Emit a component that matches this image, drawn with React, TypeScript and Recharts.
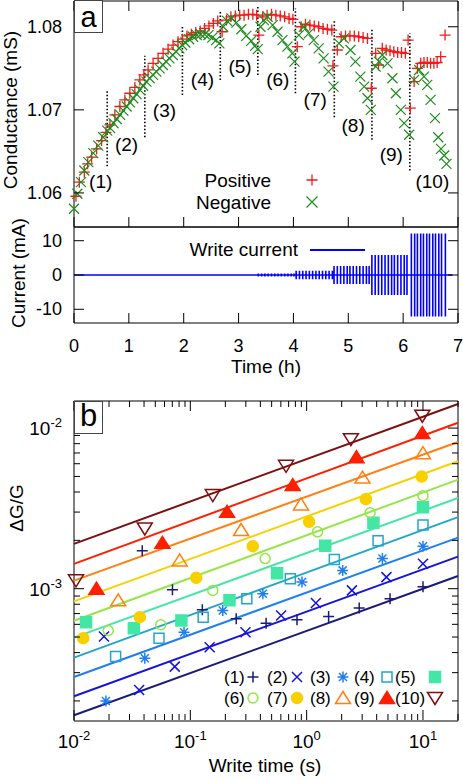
import React from "react";
import {
  ComposedChart,
  Scatter,
  Line,
  XAxis,
  YAxis,
  ReferenceLine,
  ReferenceArea,
  ReferenceDot,
} from "recharts";

const FONT = '"Liberation Sans", Arial, Helvetica, sans-serif';

// ---------------- Panel a (top): conductance vs time ----------------
const positive: [number, number][] = [
  [0.036, 1.0596], [0.097, 1.0613], [0.188, 1.0625], [0.248, 1.0635], [0.321, 1.0643], [0.412, 1.0653], [0.503, 1.0663], [0.582, 1.0673],
  [0.655, 1.0682], [0.745, 1.0694], [0.836, 1.0704], [0.927, 1.0712], [1.018, 1.072], [1.109, 1.0727], [1.2, 1.0736], [1.273, 1.0742],
  [1.351, 1.0748], [1.442, 1.0756], [1.533, 1.0762], [1.624, 1.0768], [1.715, 1.0773], [1.806, 1.0778], [1.896, 1.0782], [1.976, 1.0785],
  [2.06, 1.0789], [2.14, 1.0791], [2.22, 1.0793], [2.3, 1.0795], [2.38, 1.0798], [2.46, 1.0801], [2.54, 1.0804], [2.62, 1.0807],
  [2.7, 1.0794], [2.78, 1.0808], [2.86, 1.0812], [2.94, 1.0813], [3.02, 1.0814], [3.1, 1.0814], [3.18, 1.0815], [3.26, 1.0815], [3.33, 1.0814],
  [3.37, 1.079], [3.44, 1.0812], [3.52, 1.0814], [3.6, 1.0815], [3.68, 1.0814], [3.76, 1.0813], [3.84, 1.0812], [3.92, 1.081], [3.99, 1.0809],
  [4.07, 1.0776], [4.14, 1.08], [4.22, 1.0803], [4.3, 1.0802], [4.38, 1.0801], [4.46, 1.08], [4.54, 1.0798], [4.62, 1.0797], [4.7, 1.0796], [4.72, 1.0753],
  [4.8, 1.0772], [4.87, 1.0788], [4.95, 1.0789], [5.03, 1.0789], [5.11, 1.0789], [5.19, 1.0788], [5.27, 1.0787], [5.35, 1.0786], [5.42, 1.0726],
  [5.5, 1.0768], [5.55, 1.0754], [5.62, 1.0774], [5.69, 1.0772], [5.76, 1.0771], [5.83, 1.077], [5.9, 1.0769], [5.97, 1.0769], [6.04, 1.0768], [6.09, 1.0784], [6.13, 1.0702],
  [6.2, 1.0734], [6.26, 1.075], [6.32, 1.0756], [6.38, 1.0757], [6.44, 1.0757], [6.5, 1.0756], [6.56, 1.0756], [6.62, 1.0757], [6.685, 1.0764], [6.764, 1.079],
];

const negative: [number, number][] = [
  [0, 1.0581], [0.061, 1.0599], [0.127, 1.0613], [0.188, 1.0627], [0.261, 1.0637], [0.352, 1.0648], [0.442, 1.0657], [0.533, 1.0667], [0.606, 1.0675],
  [0.66, 1.0678], [0.72, 1.0684], [0.78, 1.0689], [0.84, 1.0694], [0.9, 1.0699], [0.96, 1.0704], [1.02, 1.0709], [1.08, 1.0714], [1.14, 1.0719], [1.2, 1.0724], [1.26, 1.0729],
  [1.32, 1.0734], [1.38, 1.0738], [1.44, 1.0742], [1.5, 1.0746], [1.56, 1.075], [1.62, 1.0754], [1.68, 1.0758], [1.74, 1.0762], [1.8, 1.0766], [1.86, 1.077], [1.92, 1.0774], [1.97, 1.0778],
  [2.03, 1.0781], [2.1, 1.0785], [2.17, 1.0788], [2.24, 1.079], [2.31, 1.0791], [2.38, 1.0791], [2.45, 1.079], [2.52, 1.0787], [2.59, 1.0784], [2.65, 1.078],
  [2.72, 1.08], [2.79, 1.0807], [2.87, 1.081], [2.96, 1.0805], [3.05, 1.0797], [3.14, 1.0789], [3.23, 1.0783], [3.3, 1.0777], [3.35, 1.0773],
  [3.4, 1.08], [3.46, 1.0808], [3.53, 1.0812], [3.62, 1.0802], [3.71, 1.0794], [3.8, 1.0784], [3.89, 1.0776], [3.98, 1.0768], [4.02, 1.0758],
  [4.1, 1.079], [4.19, 1.08], [4.28, 1.0792], [4.37, 1.0784], [4.46, 1.0774], [4.55, 1.0762], [4.64, 1.0746], [4.73, 1.0728],
  [4.83, 1.078], [4.92, 1.0786], [5.04, 1.0772], [5.13, 1.0758], [5.22, 1.074], [5.29, 1.0728], [5.35, 1.0714], [5.41, 1.07],
  [5.5, 1.0752], [5.56, 1.0758], [5.62, 1.0766], [5.715, 1.0756], [5.805, 1.0738], [5.867, 1.072], [5.958, 1.07], [6.018, 1.0684], [6.109, 1.067],
  [6.2, 1.0736], [6.29, 1.0748], [6.38, 1.074], [6.44, 1.073], [6.5, 1.0712], [6.58, 1.069], [6.64, 1.0667], [6.69, 1.0653], [6.75, 1.0645], [6.79, 1.0635],
];

const hourTicks = [0, 1, 2, 3, 4, 5, 6, 7];
const gTicks = [1.06, 1.07, 1.08];

const sepTimes = [0.605, 1.291, 1.976, 2.667, 3.351, 4.036, 4.745, 5.431, 6.122];
const sepLow = [1.0632, 1.0667, 1.0718, 1.0736, 1.0742, 1.072, 1.0691, 1.0664, 1.0627];
const sepHigh = [1.0723, 1.0765, 1.0802, 1.082, 1.0825, 1.0822, 1.0808, 1.0797, 1.0792];

const segLabels = ["(1)", "(2)", "(3)", "(4)", "(5)", "(6)", "(7)", "(8)", "(9)", "(10)"];
const segLabelT = [0.487, 0.958, 1.649, 2.342, 3.027, 3.715, 4.397, 5.088, 5.785, 6.533];
const segLabelG = [1.0614, 1.0658, 1.07, 1.0737, 1.0753, 1.0737, 1.0713, 1.0681, 1.0646, 1.0614];

// ---------------- Panel a (bottom): write current ----------------
const currentTicks = [-10, 0, 10];
const pulseAmp = [0.12, 0.45, 1.25, 2.65, 5.8, 12.1];
const pulseTimes: number[][] = [
  [2.7, 2.76, 2.81, 2.87, 2.93, 2.98, 3.04, 3.1, 3.15, 3.21, 3.26, 3.31],
  [3.36, 3.42, 3.48, 3.54, 3.6, 3.66, 3.72, 3.78, 3.84, 3.9, 3.96, 4.01],
  [4.05, 4.11, 4.17, 4.23, 4.29, 4.35, 4.41, 4.47, 4.53, 4.59, 4.65, 4.71],
  [4.74, 4.8, 4.86, 4.92, 4.98, 5.03, 5.09, 5.15, 5.21, 5.27, 5.33, 5.38],
  [5.43, 5.49, 5.55, 5.61, 5.67, 5.73, 5.79, 5.84, 5.9, 5.96, 6.02, 6.07],
  [6.15, 6.21, 6.26, 6.32, 6.37, 6.43, 6.48, 6.54, 6.59, 6.65, 6.7, 6.77],
];
const currentEnd = 6.9;

// ---------------- Panel b: dG/G vs write time ----------------
const bNames = ["(1)", "(2)", "(3)", "(4)", "(5)", "(6)", "(7)", "(8)", "(9)", "(10)"];
const bColors = ["#1b1b78", "#1414dc", "#1f7ff0", "#22a6cc", "#44e6a6", "#96e64a", "#f8d000", "#ff8010", "#ff1e00", "#7d0f0f"];
const bMarks = ["plus", "cross", "star", "square", "fsquare", "circle", "fcircle", "tri", "ftri", "dtri"];
const bTimes: number[][] = [
  [0.0386, 0.0702, 0.1268, 0.248, 0.448, 0.826, 1.545, 2.83, 5.21, 10],
  [0.0181, 0.0363, 0.0735, 0.1466, 0.298, 0.603, 1.2, 2.45, 4.85, 10],
  [0.0188, 0.0406, 0.0883, 0.19, 0.42, 0.912, 2.04, 4.48, 10],
  [0.0228, 0.0538, 0.129, 0.306, 0.724, 1.73, 4.11, 10],
  [0.0127, 0.0327, 0.0838, 0.217, 0.557, 1.445, 3.75, 10],
  [0.0197, 0.0557, 0.156, 0.44, 1.24, 3.51, 10],
  [0.012, 0.0368, 0.1125, 0.344, 1.05, 3.23, 9.75],
  [0.024, 0.081, 0.273, 0.893, 3.02, 10],
  [0.0156, 0.0575, 0.207, 0.759, 2.68, 9.87],
  [0.0104, 0.0406, 0.156, 0.665, 2.4, 9.87],
];
const bValues: number[][] = [
  [1.72e-3, 9.86e-4, 7.39e-4, 6.49e-4, 6.1e-4, 6.4e-4, 6.72e-4, 7.57e-4, 8.66e-4, 1.03e-3],
  [5.04e-4, 2.34e-4, 3.27e-4, 4.32e-4, 5.36e-4, 6.81e-4, 8.14e-4, 9.76e-4, 1.18e-3, 1.43e-3],
  [2.0e-4, 3.69e-4, 5.36e-4, 7.32e-4, 9.3e-4, 1.1e-3, 1.3e-3, 1.54e-3, 1.84e-3],
  [3.78e-4, 4.92e-4, 6.65e-4, 8.66e-4, 1.155e-3, 1.52e-3, 1.99e-3, 2.49e-3],
  [6.19e-4, 5.68e-4, 6.34e-4, 8.46e-4, 1.25e-3, 1.85e-3, 2.57e-3, 3.21e-3],
  [5.49e-4, 5.96e-4, 9.76e-4, 1.54e-3, 2.26e-3, 2.97e-3, 3.79e-3],
  [4.92e-4, 6.65e-4, 1.17e-3, 1.84e-3, 2.61e-3, 3.61e-3, 4.99e-3],
  [8.46e-4, 1.5e-3, 2.32e-3, 3.35e-3, 4.92e-3, 6.98e-3],
  [1.0e-3, 1.93e-3, 3.01e-3, 4.42e-3, 6.59e-3, 9.31e-3],
  [1.127e-3, 2.37e-3, 3.83e-3, 5.82e-3, 8.53e-3, 1.194e-2],
];
const fitT = [0.01, 20];
const fitLow = [1.63e-4, 2.14e-4, 2.82e-4, 3.72e-4, 4.96e-4, 6.31e-4, 8.33e-4, 1.122e-3, 1.427e-3, 1.903e-3];
const fitHigh = [1.2e-3, 1.585e-3, 2.08e-3, 2.79e-3, 3.67e-3, 4.78e-3, 6.22e-3, 8.2e-3, 1.079e-2, 1.413e-2];
const bXMajor = [0.01, 0.1, 1, 10];
const bXMinor = [0.02, 0.03, 0.04, 0.05, 0.06, 0.07, 0.08, 0.09, 0.2, 0.3, 0.4, 0.5, 0.6, 0.7, 0.8, 0.9, 2, 3, 4, 5, 6, 7, 8, 9, 20];
const bYMajor = [1e-3, 1e-2];
const bYMinor = [2e-4, 3e-4, 4e-4, 5e-4, 6e-4, 7e-4, 8e-4, 9e-4, 2e-3, 3e-3, 4e-3, 5e-3, 6e-3, 7e-3, 8e-3, 9e-3];
const bXDomain = [0.01, 20];
const bYDomain = [1.5e-4, 1.475e-2];

// ---------------- helpers ----------------
type P = { x: number; y: number };
const toPts = (arr: [number, number][]): P[] => arr.map(([x, y]) => ({ x, y }));

const MARK: Record<string, { d: string; filled: boolean }> = {
  plus: { d: "M-5.5,0H5.5M0,-5.5V5.5", filled: false },
  cross: { d: "M-5,-5L5,5M-5,5L5,-5", filled: false },
  star: { d: "M-5.5,0H5.5M0,-5.5V5.5M-4,-4L4,4M-4,4L4,-4", filled: false },
  square: { d: "M-5,-5H5V5H-5Z", filled: false },
  fsquare: { d: "M-5.5,-5.5H5.5V5.5H-5.5Z", filled: true },
  circle: { d: "M-5,0A5,5 0 1,0 5,0A5,5 0 1,0 -5,0Z", filled: false },
  fcircle: { d: "M-5.5,0A5.5,5.5 0 1,0 5.5,0A5.5,5.5 0 1,0 -5.5,0Z", filled: true },
  tri: { d: "M0,-6.5L7.5,5.5H-7.5Z", filled: false },
  ftri: { d: "M0,-6.5L7.5,5.5H-7.5Z", filled: true },
  dtri: { d: "M0,6.5L7.5,-5.5H-7.5Z", filled: false },
};

const markerShape = (kind: string, color: string, sw = 1.3) => (p: any) => {
  const { cx, cy } = p;
  if (cx == null || cy == null || isNaN(cx) || isNaN(cy)) return <g />;
  const m = MARK[kind];
  return (
    <path
      transform={`translate(${cx},${cy})`}
      d={m.d}
      stroke={color}
      strokeWidth={sw}
      fill={m.filled ? color : "none"}
    />
  );
};

const PL = 74;
const PR = 458;

const yTick =
  (opts: {
    isMajor: (v: number) => boolean;
    label: (v: number) => React.ReactNode;
    majorLen: number;
    minorLen: number;
    dy: number;
    fontSize: number;
  }) =>
  (props: any) => {
    const { y, payload } = props;
    const v = payload.value;
    const major = opts.isMajor(v);
    const len = major ? opts.majorLen : opts.minorLen;
    return (
      <g>
        <line x1={PL} x2={PL + len} y1={y} y2={y} stroke="#000" strokeWidth={1} />
        <line x1={PR - len} x2={PR} y1={y} y2={y} stroke="#000" strokeWidth={1} />
        {major && (
          <text x={PL - 12} y={y + opts.dy} textAnchor="end" fontSize={opts.fontSize} fontFamily={FONT} fill="#000">
            {opts.label(v)}
          </text>
        )}
      </g>
    );
  };

const xTick =
  (opts: {
    top: number | null;
    bottom: number;
    isMajor: (v: number) => boolean;
    label: ((v: number) => React.ReactNode) | null;
    majorLen: number;
    minorLen: number;
    dy: number;
    fontSize: number;
  }) =>
  (props: any) => {
    const { x, payload } = props;
    const v = payload.value;
    const major = opts.isMajor(v);
    const len = major ? opts.majorLen : opts.minorLen;
    return (
      <g>
        <line x1={x} x2={x} y1={opts.bottom} y2={opts.bottom - len} stroke="#000" strokeWidth={1} />
        {opts.top !== null && (
          <line x1={x} x2={x} y1={opts.top} y2={opts.top + len} stroke="#000" strokeWidth={1} />
        )}
        {major && opts.label && (
          <text x={x} y={opts.bottom + opts.dy} textAnchor="middle" fontSize={opts.fontSize} fontFamily={FONT} fill="#000">
            {opts.label(v)}
          </text>
        )}
      </g>
    );
  };

const pow10Label = (v: number) => {
  const e = Math.round(Math.log10(v));
  return (
    <>
      10
      <tspan dy={-8} fontSize={13}>
        {String(e)}
      </tspan>
    </>
  );
};

export default function App() {
  const posPts = toPts(positive);
  const negPts = toPts(negative);

  const currentPts: P[] = [{ x: 0, y: 0 }];
  pulseTimes.forEach((ts, k) =>
    ts.forEach((t) => {
      currentPts.push({ x: t, y: 0 }, { x: t, y: pulseAmp[k] }, { x: t, y: -pulseAmp[k] }, { x: t, y: 0 });
    })
  );
  currentPts.push({ x: currentEnd, y: 0 });

  const bTicksX = [...bXMajor, ...bXMinor].sort((a, b) => a - b);
  const bTicksY = [...bYMajor, ...bYMinor].sort((a, b) => a - b);
  const isMajorX = (v: number) => bXMajor.some((m) => Math.abs(m - v) / m < 1e-6);
  const isMajorY = (v: number) => bYMajor.some((m) => Math.abs(m - v) / m < 1e-6);

  const A1 = { top: 1, bottom: 227 };
  const A2 = { top: 7, bottom: 103 };
  const B = { top: 21, bottom: 340 };

  return (
    <div style={{ position: "absolute", left: 0, top: 0, width: 463, height: 780, background: "#fff", overflow: "hidden" }}>
      {/* Panel a - conductance */}
      <div style={{ position: "absolute", left: 0, top: 0 }}>
        <ComposedChart width={463} height={228} margin={{ top: 1, right: 5, bottom: 0, left: 0 }}>
          <XAxis
            dataKey="x"
            type="number"
            domain={[0, 7]}
            ticks={hourTicks}
            interval={0}
            height={1}
            axisLine={false}
            tickLine={false}
            tickSize={0}
            tickMargin={0}
            tick={xTick({ top: A1.top, bottom: A1.bottom, isMajor: () => true, label: null, majorLen: 10, minorLen: 10, dy: 0, fontSize: 18 })}
          />
          <YAxis
            dataKey="y"
            type="number"
            domain={[1.0559, 1.0831]}
            ticks={gTicks}
            interval={0}
            width={74}
            axisLine={false}
            tickLine={false}
            tickSize={0}
            tickMargin={0}
            tick={yTick({ isMajor: () => true, label: (v) => v.toFixed(2), majorLen: 10, minorLen: 10, dy: 6, fontSize: 18 })}
          />
          {sepTimes.map((t, i) => (
            <ReferenceLine
              key={"sep" + i}
              segment={[
                { x: t, y: sepLow[i] },
                { x: t, y: sepHigh[i] },
              ]}
              stroke="#000"
              strokeWidth={1.6}
              strokeDasharray="1.5 2"
            />
          ))}
          <Scatter name="Positive" data={posPts} shape={markerShape("plus", "#f21b1b", 1.3)} isAnimationActive={false} />
          <Scatter name="Negative" data={negPts} shape={markerShape("cross", "#1e8c1e", 1.2)} isAnimationActive={false} />
          {segLabels.map((s, i) => (
            <ReferenceDot
              key={"lab" + i}
              x={segLabelT[i]}
              y={segLabelG[i]}
              r={0}
              fill="none"
              stroke="none"
              label={{ value: s, position: "center", fontSize: 19, fill: "#000", fontFamily: FONT }}
            />
          ))}
          <ReferenceArea x1={0} x2={7} y1={1.0559} y2={1.0831} fill="none" stroke="#000" strokeWidth={1} />
        </ComposedChart>
      </div>

      {/* Panel a - current */}
      <div style={{ position: "absolute", left: 0, top: 220 }}>
        <ComposedChart width={463} height={160} margin={{ top: 7, right: 5, bottom: 17, left: 0 }}>
          <XAxis
            dataKey="x"
            type="number"
            domain={[0, 7]}
            ticks={hourTicks}
            interval={0}
            height={40}
            axisLine={false}
            tickLine={false}
            tickSize={0}
            tickMargin={0}
            tick={xTick({ top: null, bottom: A2.bottom, isMajor: () => true, label: (v) => String(v), majorLen: 10, minorLen: 10, dy: 29, fontSize: 18 })}
          />
          <YAxis
            dataKey="y"
            type="number"
            domain={[-14, 14]}
            ticks={currentTicks}
            interval={0}
            width={74}
            axisLine={false}
            tickLine={false}
            tickSize={0}
            tickMargin={0}
            tick={yTick({ isMajor: () => true, label: (v) => String(v), majorLen: 10, minorLen: 10, dy: 6, fontSize: 18 })}
          />
          <Line data={currentPts} dataKey="y" stroke="#0000ff" strokeWidth={1.6} dot={false} isAnimationActive={false} />
          <ReferenceArea x1={0} x2={7} y1={-14} y2={14} fill="none" stroke="#000" strokeWidth={1} />
        </ComposedChart>
      </div>

      {/* Panel b */}
      <div style={{ position: "absolute", left: 0, top: 380 }}>
        <ComposedChart width={463} height={400} margin={{ top: 21, right: 5, bottom: 20, left: 0 }}>
          <XAxis
            dataKey="x"
            type="number"
            scale="log"
            domain={bXDomain}
            ticks={bTicksX}
            interval={0}
            height={39}
            axisLine={false}
            tickLine={false}
            tickSize={0}
            tickMargin={0}
            tick={xTick({ top: B.top, bottom: B.bottom, isMajor: isMajorX, label: pow10Label, majorLen: 10, minorLen: 6, dy: 28, fontSize: 19 })}
          />
          <YAxis
            dataKey="y"
            type="number"
            scale="log"
            domain={bYDomain}
            ticks={bTicksY}
            interval={0}
            width={74}
            axisLine={false}
            tickLine={false}
            tickSize={0}
            tickMargin={0}
            tick={yTick({ isMajor: isMajorY, label: pow10Label, majorLen: 10, minorLen: 6, dy: 7, fontSize: 19 })}
          />
          <ReferenceArea x1={bXDomain[0]} x2={bXDomain[1]} y1={bYDomain[0]} y2={bYDomain[1]} fill="none" stroke="#000" strokeWidth={1} />
          {bNames.map((n, i) => (
            <Line
              key={"fit" + i}
              data={[
                { x: fitT[0], y: fitLow[i] },
                { x: fitT[1], y: fitHigh[i] },
              ]}
              dataKey="y"
              stroke={bColors[i]}
              strokeWidth={2}
              dot={false}
              isAnimationActive={false}
            />
          ))}
          {bNames.map((n, i) => (
            <Scatter
              key={"sc" + i}
              name={n}
              data={bTimes[i].map((t, j) => ({ x: t, y: bValues[i][j] }))}
              shape={markerShape(bMarks[i], bColors[i], 1.5)}
              isAnimationActive={false}
            />
          ))}
        </ComposedChart>
      </div>

      {/* Decorations: titles, legends, panel letters */}
      <svg width={463} height={780} style={{ position: "absolute", left: 0, top: 0, pointerEvents: "none" }} fontFamily={FONT}>
        <rect x={74.5} y={0.5} width={28} height={32} fill="#fff" stroke="#444" strokeWidth={1} />
        <text x={88.5} y={27} fontSize={29} textAnchor="middle" fill="#000">a</text>
        <rect x={74.5} y={401.5} width={28} height={32} fill="#fff" stroke="#444" strokeWidth={1} />
        <text x={88.5} y={426} fontSize={31} textAnchor="middle" fill="#000">b</text>

        <text transform="translate(17,110) rotate(-90)" textAnchor="middle" fontSize={19} fill="#000">Conductance (mS)</text>
        <text transform="translate(25,273) rotate(-90)" textAnchor="middle" fontSize={19} fill="#000">Current (mA)</text>
        <text transform="translate(23,508) rotate(-90)" textAnchor="middle" fontSize={19} fill="#000">ΔG/G</text>
        <text x={266} y={373} textAnchor="middle" fontSize={19} fill="#000">Time (h)</text>
        <text x={265} y={772} textAnchor="middle" fontSize={19} fill="#000">Write time (s)</text>

        {/* legend panel a top */}
        <text x={271} y={187} textAnchor="end" fontSize={19} fill="#000">Positive</text>
        <path transform="translate(312,180)" d="M-5.5,0H5.5M0,-5.5V5.5" stroke="#f21b1b" strokeWidth={1.3} fill="none" />
        <text x={271} y={209} textAnchor="end" fontSize={19} fill="#000">Negative</text>
        <path transform="translate(312,202)" d="M-5.5,-5.5L5.5,5.5M-5.5,5.5L5.5,-5.5" stroke="#1e8c1e" strokeWidth={1.2} fill="none" />

        {/* legend current */}
        <text x={298} y={256} textAnchor="end" fontSize={19} fill="#000">Write current</text>
        <line x1={310} x2={365} y1={250} y2={250} stroke="#0000ff" strokeWidth={2} />

        {/* legend panel b */}
        {bNames.map((n, i) => {
          const col = i % 5;
          const row = Math.floor(i / 5);
          const tx = [224, 267, 310, 354, 395][col];
          const mx = [253, 297, 343, 387, 435][col];
          const cy = row === 0 ? 677 : 698;
          const m = MARK[bMarks[i]];
          return (
            <g key={"lg" + i}>
              <text x={tx} y={cy + 6} fontSize={17} fill="#000">{n}</text>
              <path transform={`translate(${mx},${cy})`} d={m.d} stroke={bColors[i]} strokeWidth={1.5} fill={m.filled ? bColors[i] : "none"} />
            </g>
          );
        })}
      </svg>
    </div>
  );
}
